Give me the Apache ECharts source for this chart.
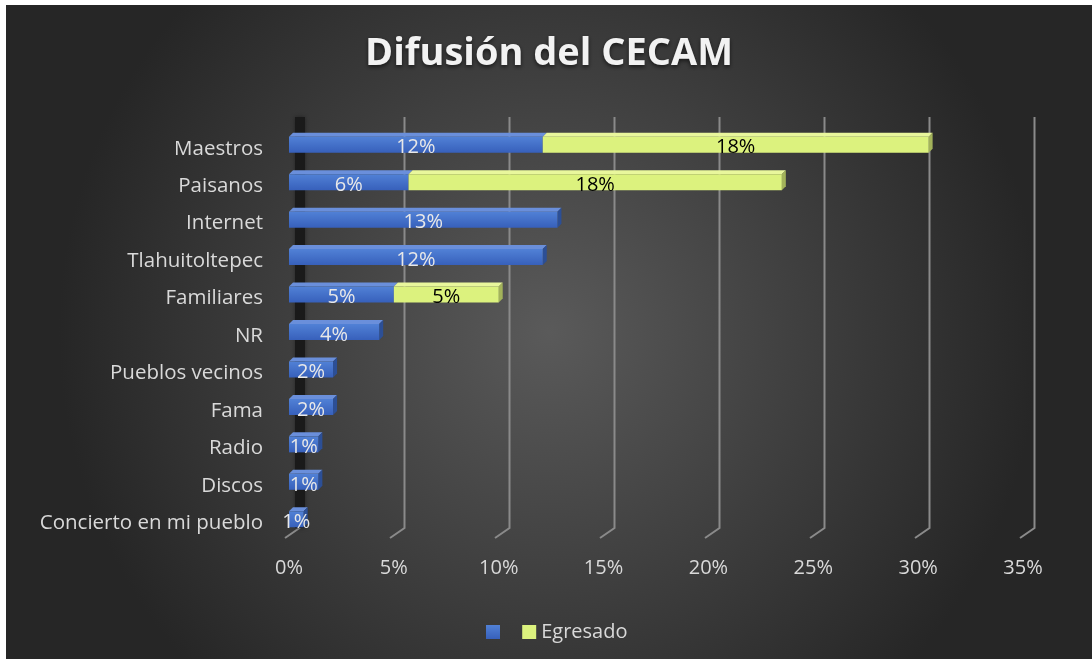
<!DOCTYPE html>
<html>
<head>
<meta charset="utf-8">
<title>Difusión del CECAM</title>
<script src="https://cdn.jsdelivr.net/npm/echarts@6/dist/echarts.min.js"></script>
<style>
  html, body { margin: 0; padding: 0; background: #ffffff; }
  #chart { position: absolute; left: 6px; top: 5px; width: 1086px; height: 654px; }
</style>
</head>
<body>
<div id="chart"></div>
<script>
const categories = [
  "Maestros", "Paisanos", "Internet", "Tlahuitoltepec", "Familiares", "NR",
  "Pueblos vecinos", "Fama", "Radio", "Discos", "Concierto en mi pueblo"
];
// first series has no name in the legend
const blueValues = [12.1, 5.7, 12.8, 12.1, 5.0, 4.3, 2.1, 2.1, 1.4, 1.4, 0.7];
const egresadoValues = [18.4, 17.8, null, null, 5.0, null, null, null, null, null, null];
const xTicks = [0, 5, 10, 15, 20, 25, 30, 35];

const FONT = "Open Sans";
const DEPTH = 4;
const HALF = 8;

// segments for the 3d top / side faces: [start, end, category, kind, showSide]
const faces = [];
categories.forEach((c, i) => {
  const b = blueValues[i] || 0;
  const g = egresadoValues[i] || 0;
  faces.push([0, b, i, 0, g ? 0 : 1]);
  if (g) faces.push([b, b + g, i, 1, 1]);
});

const topColors = ["#6a8fdb", "#e9f79c"];
const sideColors = ["#2c4f96", "#a3b35a"];

function renderFace(params, api) {
  const p0 = api.coord([api.value(0), api.value(2)]);
  const p1 = api.coord([api.value(1), api.value(2)]);
  const kind = api.value(3);
  const y = p0[1];
  const children = [{
    type: "polygon",
    shape: { points: [[p0[0], y - HALF], [p1[0], y - HALF], [p1[0] + DEPTH, y - HALF - DEPTH], [p0[0] + DEPTH, y - HALF - DEPTH]] },
    style: { fill: topColors[kind] }
  }];
  if (api.value(4)) {
    children.push({
      type: "polygon",
      shape: { points: [[p1[0], y - HALF], [p1[0] + DEPTH, y - HALF - DEPTH], [p1[0] + DEPTH, y + HALF - DEPTH], [p1[0], y + HALF]] },
      style: { fill: sideColors[kind] }
    });
  }
  return { type: "group", children: children };
}

// back-wall gridline with its slanted foot on the floor
function renderGridLine(params, api) {
  const cs = params.coordSys;
  const x = api.coord([api.value(0), 0])[0];
  const bottom = cs.y + cs.height;
  return {
    type: "polyline",
    shape: { points: [[x, cs.y], [x, bottom], [x - 14.5, bottom + 10]] },
    style: { stroke: "#8a8a8a", lineWidth: 2, fill: null }
  };
}

const chart = echarts.init(document.getElementById("chart"));

const option = {
  backgroundColor: {
    type: "radial", x: 0.5, y: 0.5, r: 0.75,
    colorStops: [
      { offset: 0, color: "#5a5a5a" },
      { offset: 1, color: "#262626" }
    ]
  },
  title: {
    text: "Difusión del CECAM",
    left: "center",
    top: 25,
    textStyle: {
      fontFamily: FONT, fontSize: 38, fontWeight: "bold", color: "#f2f2f2",
      textShadowColor: "rgba(0,0,0,0.6)", textShadowBlur: 4, textShadowOffsetY: 2
    }
  },
  legend: {
    data: [" ", "Egresado"],
    left: 475,
    top: 612,
    icon: "rect",
    itemWidth: 14,
    itemHeight: 14,
    itemGap: 12,
    textStyle: { fontFamily: FONT, fontSize: 20, color: "#d9d9d9" }
  },
  grid: [
    { left: 283, top: 121, width: 734, height: 412 },
    { left: 293.5, top: 112, width: 735, height: 411 }
  ],
  xAxis: [
    {
      gridIndex: 0, type: "value", min: xTicks[0], max: xTicks[xTicks.length - 1], interval: 5,
      axisLine: { show: false }, axisTick: { show: false }, splitLine: { show: false },
      axisLabel: { formatter: "{value}%", margin: 20, fontFamily: FONT, fontSize: 20, color: "#d9d9d9" }
    },
    {
      gridIndex: 1, type: "value", min: xTicks[0], max: xTicks[xTicks.length - 1], interval: 5,
      axisLine: { show: false }, axisTick: { show: false }, axisLabel: { show: false },
      splitLine: { show: false }
    }
  ],
  yAxis: [
    {
      gridIndex: 0, type: "category", data: categories, inverse: true,
      axisLine: { show: false }, axisTick: { show: false },
      axisLabel: {
        margin: 26,
        formatter: (v) => "{a|" + v + "}",
        rich: { a: { padding: [8, 0, 0, 0], fontFamily: FONT, fontSize: 20.5, color: "#d9d9d9" } }
      }
    },
    {
      gridIndex: 1, type: "category", data: categories, inverse: true, offset: 6,
      axisTick: { show: false }, axisLabel: { show: false },
      axisLine: { show: true, lineStyle: { color: "#1a1a1a", width: 10, cap: "butt", shadowColor: "rgba(0,0,0,0.4)", shadowBlur: 4 } }
    }
  ],
  series: [
    {
      type: "custom",
      xAxisIndex: 1,
      yAxisIndex: 1,
      renderItem: renderGridLine,
      data: xTicks.map((t) => [t]),
      encode: { x: 0 },
      silent: true,
      z: 0
    },
    {
      type: "custom",
      renderItem: renderFace,
      data: faces,
      encode: { x: [0, 1], y: 2 },
      silent: true,
      z: 1
    },
    {
      name: " ",
      type: "bar",
      stack: "total",
      barWidth: 16,
      z: 2,
      data: blueValues,
      itemStyle: {
        color: {
          type: "linear", x: 0, y: 0, x2: 0, y2: 1,
          colorStops: [{ offset: 0, color: "#5181d6" }, { offset: 1, color: "#3760bb" }]
        }
      },
      label: {
        show: true, position: "inside", offset: [0, 3],
        formatter: (p) => Math.round(p.value) + "%",
        fontFamily: FONT, fontSize: 20, color: "#e8e8e8"
      }
    },
    {
      name: "Egresado",
      type: "bar",
      stack: "total",
      barWidth: 16,
      z: 2,
      data: egresadoValues,
      itemStyle: { color: "#dcf27e" },
      label: {
        show: true, position: "inside", offset: [0, 3],
        formatter: (p) => Math.round(p.value) + "%",
        fontFamily: FONT, fontSize: 20, color: "#000000"
      }
    }
  ]
};

chart.setOption(option);
</script>
</body>
</html>
